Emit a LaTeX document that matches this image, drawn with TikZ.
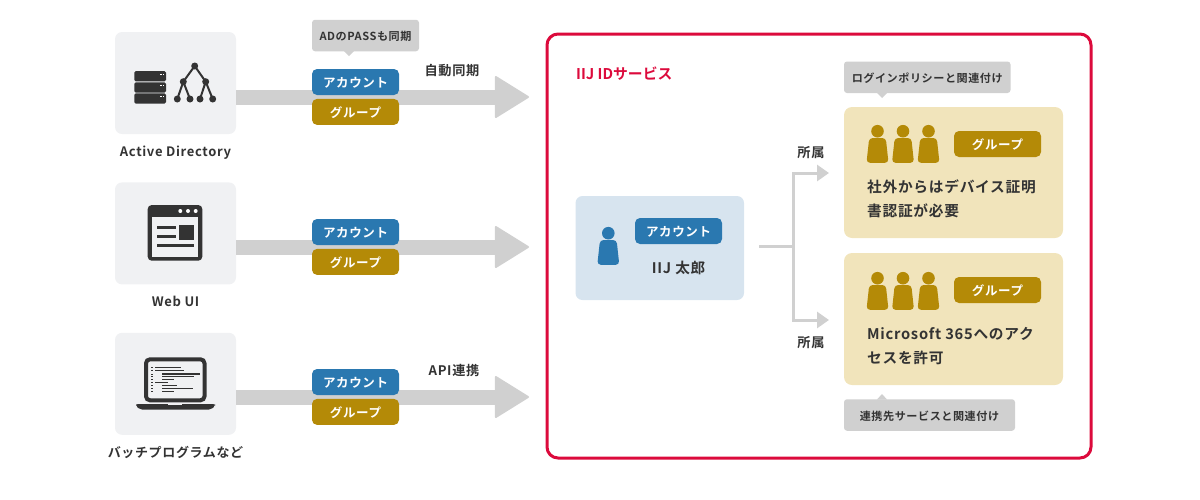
\documentclass[tikz,border=0pt]{standalone}
\usepackage{fontspec}
\setmainfont[LetterSpace=5,BoldFont={Noto Sans CJK JP Bold}]{Noto Sans CJK JP}
\usetikzlibrary{arrows.meta,positioning,calc}
\definecolor{acctblue}{HTML}{2A78B0}
\definecolor{grpgold}{HTML}{B48A07}
\definecolor{flowgrey}{HTML}{D0D0D0}
\definecolor{srcbg}{HTML}{F0F1F3}
\definecolor{acctbg}{HTML}{D7E4EF}
\definecolor{grpbg}{HTML}{F1E4BB}
\definecolor{iijred}{HTML}{DC0A3C}
\definecolor{inkdark}{HTML}{333333}
\tikzset{
  srcbox/.style={fill=srcbg, rounded corners=7pt, minimum width=121pt, minimum height=102pt, inner sep=0pt},
  srclabel/.style={font=\fontsize{13}{15}\selectfont\bfseries, text=inkdark, inner sep=0pt, text height=11pt, text depth=3pt},
  pillbase/.style={rounded corners=5pt, minimum width=87pt, minimum height=26pt, inner sep=0pt, text=white, text height=11pt, text depth=0pt, font=\fontsize{12.5}{14}\selectfont\bfseries},
  acctpill/.style={pillbase, fill=acctblue},
  grppill/.style={pillbase, fill=grpgold},
  notebox/.style={fill=flowgrey, rounded corners=3pt, minimum height=31.5pt, inner sep=0pt, text=inkdark, text height=10pt, text depth=0pt, font=\fontsize{11.1}{13}\selectfont\bfseries},
  flowlabel/.style={font=\fontsize{13.2}{15}\selectfont\bfseries, text=inkdark, inner sep=0pt, text height=10.5pt, text depth=0pt},
  flowarrow/.style={flowgrey, line width=15pt, -{Triangle[length=35pt,width=43pt,line width=2pt,round]}},
  memberline/.style={flowgrey, line width=3pt},
  memberarrow/.style={flowgrey, line width=3pt, -{Triangle[length=12pt,width=16pt]}},
  person/.pic={
    \fill (0,-6.8) circle (6.3);
    \fill[rounded corners=3.5pt] (-8.3,0) -- (-11,24.8) -- (11,24.8) -- (8.3,0) -- cycle;
  },
  groupcard/.style={fill=grpbg, rounded corners=8pt, minimum width=219pt, inner sep=0pt},
  cardtext/.style={font=\fontsize{14.7}{24}\selectfont\bfseries, text=inkdark, inner sep=0pt, align=left, anchor=north west},
}
\begin{document}
\begin{tikzpicture}[x=1pt,y=-1pt]
\useasboundingbox (0,0) rectangle (1200,499);

% sources
\node[srcbox] (ad) at (175.5,83) {};
\node[srcbox, below=48pt of ad] (webui) {};
\node[srcbox, below=48pt of webui] (batch) {};
\node[srclabel, below=11pt of ad] (adlabel) {Active Directory};
\node[srclabel, below=11pt of webui] (weblabel) {Web UI};
\node[srclabel, below=11pt of batch] (batchlabel) {バッチプログラムなど};

% flows
\coordinate (flowend1) at (529,97);
\coordinate (flowend2) at (529,247);
\coordinate (flowend3) at (529,397);
\draw[flowarrow] (ad.east |- flowend1) -- (flowend1);
\draw[flowarrow] (webui.east |- flowend2) -- (flowend2);
\draw[flowarrow] (batch.east |- flowend3) -- (flowend3);

\foreach \n/\y in {1/82,2/232,3/382}{
  \node[acctpill] (acct\n) at (355.5,\y) {アカウント};
  \node[grppill, below=3.5pt of acct\n] (grp\n) {グループ};
}

\node[notebox, minimum width=107pt] (adnote) at (365.5,35.5) {ADのPASSも同期};
\fill[flowgrey] (344,51) -- (349,56) -- (354,51) -- cycle;
\node[flowlabel] (synclabel) at (452,70) {自動同期};
\node[flowlabel] (apilabel) at (454,370) {API連携};

% service frame
\node[draw=iijred, line width=3pt, rounded corners=11pt, minimum width=544pt, minimum height=424pt, inner sep=0pt] (service) at (819,246) {};
\node[font=\fontsize{14.8}{16}\selectfont\bfseries\addfontfeature{LetterSpace=0}, text=iijred, inner sep=0pt, anchor=west] (servicetitle) at (576,74) {IIJ IDサービス};

% account card
\node[fill=acctbg, rounded corners=7pt, minimum width=168.5pt, minimum height=104pt, inner sep=0pt] (acctcard) at (659.75,248) {};
\node[acctpill] (acct4) at (678.5,231) {アカウント};
\node[font=\fontsize{14.6}{16}\selectfont\bfseries, text=inkdark, inner sep=0pt, text height=11.5pt, text depth=0pt] (taro) at (678.5,268) {IIJ 太郎};
\pic[acctblue] at (608.3,240) {person};

% group cards
\node[groupcard, minimum height=131pt] (grpcard1) at (953.5,172.5) {};
\node[groupcard, minimum height=132pt] (grpcard2) at (953.5,319) {};
\foreach \px in {877.5,903,928.5}{
  \pic[grpgold] at (\px,138) {person};
  \pic[grpgold] at (\px,285) {person};
}
\node[grppill] (grp4) at (997.5,144) {グループ};
\node[grppill] (grp5) at (997.5,290) {グループ};
\node[cardtext] (grptext1) at (867,180) {社外からはデバイス証明\\書認証が必要};
\node[cardtext] (grptext2) at (867,327) {Microsoft 365へのアク\\セスを許可};

\node[notebox, minimum width=166.5pt] (loginnote) at (927.25,77.25) {ログインポリシーと関連付け};
\fill[flowgrey] (877,93) -- (882,98) -- (887,93) -- cycle;
\node[notebox, minimum width=171pt] (linknote) at (929.5,415) {連携先サービスと関連付け};
\fill[flowgrey] (877,399.5) -- (882,394) -- (887,399.5) -- cycle;

% membership
\coordinate (branch) at (793,246);
\coordinate (branchstart) at (759,246);
\draw[memberline] (branchstart) -- (branch);
\draw[memberarrow] (branch) |- (829,173);
\draw[memberarrow] (branch) |- (829,320);
\node[flowlabel] (belong1) at (811,152) {所属};
\node[flowlabel] (belong2) at (811,342) {所属};

% server icon
\foreach \y in {71,82.3,93.3}{
  \fill[inkdark, rounded corners=1.5pt] (134.3,\y) rectangle (166,\y+10.3);
  \fill[white] (160,\y+2.5) rectangle +(1.5,1.5);
  \fill[white] (162.5,\y+2.5) rectangle +(1.5,1.5);
}
\draw[inkdark, line width=2pt] (183.3,81.7) -- (194.7,66) -- (205.7,81.7);
\draw[inkdark, line width=2pt] (177.3,99) -- (183.3,81.7) -- (190,99);
\draw[inkdark, line width=2pt] (200,99) -- (205.7,81.7) -- (212.7,99);
\foreach \cx/\cy in {194.7/66,183.3/81.7,205.7/81.7,177.3/99,190/99,200/99,212.7/99}
  \fill[inkdark] (\cx,\cy) circle (3.5);

% browser icon
\fill[inkdark, rounded corners=4pt] (147.7,205) rectangle (202.3,260.7);
\fill[srcbg] (151.7,217) rectangle (198.3,256.5);
\foreach \cx in {180.3,188,195.7}
  \fill[white] (\cx,211) circle (2);
\fill[inkdark] (157.3,225.7) rectangle (176,229.3);
\fill[inkdark] (157.3,234.7) rectangle (176,238.3);
\fill[inkdark] (157.3,243.7) rectangle (194.3,247.3);
\fill[inkdark] (179,225) rectangle (194.3,239.7);

% laptop icon
\draw[inkdark, line width=4pt, rounded corners=4pt, fill=srcbg] (146,359.3) rectangle (204.5,400.3);
\fill[inkdark, rounded corners=2pt] (136,404) -- (215,404) -- (215,406) -- (211,409.5) -- (140,409.5) -- (136,406) -- cycle;
\fill[srcbg] (168,404) rectangle (182,405);
\foreach \y/\xa/\xb in {367.3/155/181,370.7/155/184,374/162/200,376.7/162/194,379.3/162/174,382.3/155/168,385.3/162/177,388.3/162/193,391.7/162/174}{
  \fill[inkdark] (151,\y-0.5) rectangle (153,\y+0.5);
  \fill[inkdark] (\xa,\y-0.6) rectangle (\xb,\y+0.6);
}
\end{tikzpicture}
\end{document}
